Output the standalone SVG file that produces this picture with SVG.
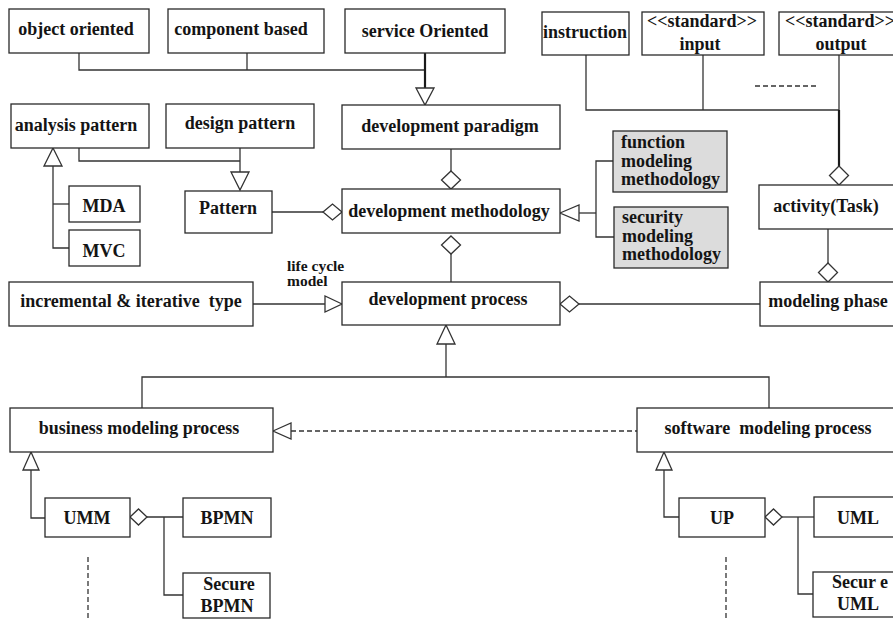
<svg xmlns="http://www.w3.org/2000/svg" width="893" height="619" viewBox="0 0 893 619">
  <style>
    .box { fill: #ffffff; stroke: #2a2a2a; stroke-width: 1.3; }
    .shade { fill: #dcdcdc; }
    .t { font-family: "Liberation Serif", "Times New Roman", serif; font-weight: bold; font-size: 18px; fill: #141414; }
    .c { text-anchor: middle; }
    .ln { fill: none; stroke: #333333; stroke-width: 1.3; }
    .thick { stroke: #1a1a1a; stroke-width: 2.2; }
    .dash { stroke-dasharray: 5 3; }
    .head { fill: #ffffff; stroke: #333333; stroke-width: 1.3; }
    .small { font-size: 15.5px; }
  </style>

  <!-- connectors -->
  <g id="connectors">
    <!-- paradigms to development paradigm -->
    <polyline class="ln" points="79,53 79,70 425,70"/>
    <line class="ln" x1="247" y1="53" x2="247" y2="70"/>
    <line class="ln thick" x1="425" y1="53" x2="425" y2="88"/>
    <polygon class="head" points="416,88 434,88 425,105"/>

    <!-- instruction / input / output to activity -->
    <polyline class="ln" points="586,55 586,110 839,110"/>
    <line class="ln" x1="703" y1="55" x2="703" y2="110"/>
    <line class="ln" x1="839" y1="55" x2="839" y2="110"/>
    <line class="ln thick" x1="839" y1="110" x2="839" y2="166"/>
    <polygon class="head" points="839,166 848.5,175.5 839,185 829.5,175.5"/>
    <line class="ln dash" x1="755" y1="86" x2="817" y2="86"/>

    <!-- patterns -->
    <polyline class="ln" points="79,148 79,161 240,161"/>
    <line class="ln" x1="240" y1="148" x2="240" y2="172"/>
    <polygon class="head" points="231,172 249,172 240,190"/>
    <polygon class="head" points="53,148 62,166 44,166"/>
    <polyline class="ln" points="53,166 53,248 69,248"/>
    <line class="ln" x1="53" y1="204" x2="69" y2="204"/>
    <line class="ln" x1="272" y1="212" x2="323" y2="212"/>
    <polygon class="head" points="323,212 332.5,204 342,212 332.5,220"/>

    <!-- development paradigm / methodology / process -->
    <line class="ln" x1="451" y1="149" x2="451" y2="171"/>
    <polygon class="head" points="451,171 460.5,180 451,189 441.5,180"/>
    <polygon class="head" points="451,236 460.5,245 451,254 441.5,245"/>
    <line class="ln" x1="451" y1="254" x2="451" y2="282"/>

    <!-- modeling methodologies -->
    <polygon class="head" points="560,213 579,205 579,221"/>
    <line class="ln" x1="579" y1="213" x2="596" y2="213"/>
    <polyline class="ln" points="613,161 596,161 596,237 614,237"/>

    <!-- life cycle model -->
    <line class="ln" x1="253" y1="304" x2="325" y2="304"/>
    <polygon class="head" points="342,304 325,296 325,312"/>

    <!-- modeling phase -->
    <polygon class="head" points="560,304 569.5,296 579,304 569.5,312"/>
    <line class="ln" x1="579" y1="304" x2="760" y2="304"/>
    <line class="ln" x1="828" y1="229" x2="828" y2="263"/>
    <polygon class="head" points="828,263 837.5,272.5 828,282 818.5,272.5"/>

    <!-- process specialisations -->
    <polygon class="head" points="446,325 455,344 437,344"/>
    <line class="ln" x1="446" y1="344" x2="446" y2="377"/>
    <polyline class="ln" points="142,408 142,377 769,377 769,408"/>
    <line class="ln dash" x1="291" y1="431" x2="637" y2="431"/>
    <polygon class="head" points="273,431 291,423 291,439"/>

    <!-- business side -->
    <polygon class="head" points="31,452 39,470 23,470"/>
    <polyline class="ln" points="31,470 31,518 45,518"/>
    <polygon class="head" points="130,517 138.5,509 147,517 138.5,525"/>
    <line class="ln" x1="147" y1="517" x2="183" y2="517"/>
    <polyline class="ln" points="164,517 164,595 183,595"/>
    <line class="ln dash" x1="88" y1="557" x2="88" y2="619"/>

    <!-- software side -->
    <polygon class="head" points="664,452 672,470 656,470"/>
    <polyline class="ln" points="664,470 664,517 679,517"/>
    <polygon class="head" points="765,517 773.5,509 782,517 773.5,525"/>
    <line class="ln" x1="782" y1="517" x2="814" y2="517"/>
    <polyline class="ln" points="798,517 798,594 813,594"/>
    <line class="ln dash" x1="726" y1="557" x2="726" y2="619"/>
  </g>

  <!-- nodes -->
  <g id="object-oriented"><rect class="box" x="9" y="9" width="140" height="44"/><text class="t c" x="76" y="35">object oriented</text></g>
  <g id="component-based"><rect class="box" x="168" y="9" width="156" height="44"/><text class="t c" x="241" y="35">component based</text></g>
  <g id="service-oriented"><rect class="box" x="345" y="9" width="160" height="44"/><text class="t c" x="425" y="37">service Oriented</text></g>

  <g id="instruction"><rect class="box" x="542" y="12" width="87" height="43"/><text class="t c" x="585" y="38">instruction</text></g>
  <g id="standard-input"><rect class="box" x="642" y="12" width="122" height="43"/><text class="t c" x="702" y="27">&lt;&lt;standard&gt;&gt;</text><text class="t c" x="700" y="50">input</text></g>
  <g id="standard-output"><rect class="box" x="779" y="12" width="125" height="43"/><text class="t c" x="840" y="27">&lt;&lt;standard&gt;&gt;</text><text class="t c" x="841" y="50">output</text></g>

  <g id="analysis-pattern"><rect class="box" x="11" y="104" width="138" height="44"/><text class="t c" x="76" y="131">analysis pattern</text></g>
  <g id="design-pattern"><rect class="box" x="166" y="104" width="148" height="44"/><text class="t c" x="240" y="129">design pattern</text></g>
  <g id="development-paradigm"><rect class="box" x="342" y="105" width="218" height="44"/><text class="t c" x="450" y="132">development paradigm</text></g>

  <g id="mda"><rect class="box" x="69" y="186" width="71" height="36"/><text class="t c" x="104" y="212">MDA</text></g>
  <g id="mvc"><rect class="box" x="69" y="230" width="71" height="36"/><text class="t c" x="104" y="257">MVC</text></g>
  <g id="pattern"><rect class="box" x="185" y="191" width="87" height="42"/><text class="t c" x="228" y="214">Pattern</text></g>
  <g id="development-methodology"><rect class="box" x="342" y="189" width="218" height="44"/><text class="t c" x="449" y="217">development methodology</text></g>

  <g id="function-modeling-methodology"><rect class="box shade" x="613" y="131" width="114" height="61"/><text class="t" x="621" y="148">function</text><text class="t" x="621" y="167">modeling</text><text class="t" x="621" y="185">methodology</text></g>
  <g id="security-modeling-methodology"><rect class="box shade" x="614" y="207" width="114" height="61"/><text class="t" x="622" y="223">security</text><text class="t" x="622" y="242">modeling</text><text class="t" x="622" y="260">methodology</text></g>

  <g id="activity-task"><rect class="box" x="759" y="185" width="140" height="44"/><text class="t c" x="826" y="212">activity(Task)</text></g>
  <g id="modeling-phase"><rect class="box" x="760" y="282" width="140" height="44"/><text class="t c" x="828" y="307">modeling phase</text></g>

  <g id="incremental-iterative"><rect class="box" x="9" y="282" width="244" height="44"/><text class="t c" x="131" y="307" xml:space="preserve">incremental &amp; iterative  type</text></g>
  <g id="life-cycle-model-label"><text class="t small" x="287" y="271">life cycle</text><text class="t small" x="287" y="286">model</text></g>
  <g id="development-process"><rect class="box" x="342" y="282" width="218" height="43"/><text class="t c" x="448" y="305">development process</text></g>

  <g id="business-modeling-process"><rect class="box" x="10" y="408" width="263" height="44"/><text class="t c" x="139" y="434">business modeling process</text></g>
  <g id="software-modeling-process"><rect class="box" x="637" y="408" width="270" height="44"/><text class="t c" x="768" y="434" xml:space="preserve">software  modeling process</text></g>

  <g id="umm"><rect class="box" x="45" y="498" width="85" height="39"/><text class="t c" x="87" y="524">UMM</text></g>
  <g id="bpmn"><rect class="box" x="183" y="498" width="88" height="39"/><text class="t c" x="227" y="524">BPMN</text></g>
  <g id="secure-bpmn"><rect class="box" x="183" y="573" width="87" height="45"/><text class="t c" x="229" y="590">Secure</text><text class="t c" x="227" y="612">BPMN</text></g>

  <g id="up"><rect class="box" x="679" y="498" width="86" height="39"/><text class="t c" x="722" y="524">UP</text></g>
  <g id="uml"><rect class="box" x="814" y="497" width="90" height="40"/><text class="t c" x="858" y="524">UML</text></g>
  <g id="secure-uml"><rect class="box" x="813" y="572" width="90" height="45"/><text class="t c" x="860" y="588" xml:space="preserve">Secur e</text><text class="t c" x="858" y="610">UML</text></g>
</svg>
